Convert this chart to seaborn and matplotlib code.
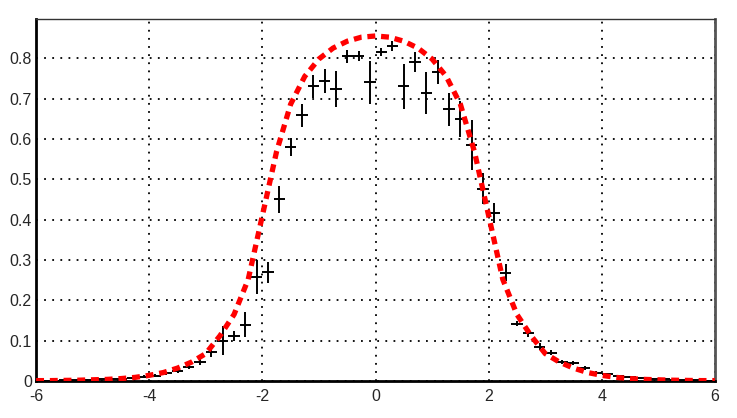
import numpy as np
import matplotlib
matplotlib.use("Agg")
import matplotlib.pyplot as plt
from matplotlib.ticker import MultipleLocator, FuncFormatter
import seaborn as sns

# histogram bin centres (width 0.2) and contents
bin_x = [-5.9, -5.7, -5.5, -5.3, -5.1, -4.9, -4.7, -4.5, -4.3, -4.1,
         -3.9, -3.7, -3.5, -3.3, -3.1, -2.9, -2.7, -2.5, -2.3, -2.1,
         -1.9, -1.7, -1.5, -1.3, -1.1, -0.9, -0.7, -0.5, -0.3, -0.1,
         0.1, 0.3, 0.5, 0.7, 0.9, 1.1, 1.3, 1.5, 1.7, 1.9,
         2.1, 2.3, 2.5, 2.7, 2.9, 3.1, 3.3, 3.5, 3.7, 3.9,
         4.1, 4.3, 4.5, 4.7, 4.9, 5.1, 5.3, 5.5, 5.7, 5.9]
bin_y = [0.001, 0.001, 0.002, 0.002, 0.003, 0.004, 0.005, 0.006, 0.008, 0.011,
         0.013, 0.019, 0.024, 0.035, 0.048, 0.072, 0.100, 0.112, 0.140, 0.258,
         0.270, 0.450, 0.579, 0.658, 0.730, 0.743, 0.723, 0.805, 0.805, 0.740,
         0.815, 0.830, 0.730, 0.790, 0.713, 0.765, 0.673, 0.650, 0.584, 0.477,
         0.417, 0.268, 0.142, 0.119, 0.085, 0.070, 0.047, 0.044, 0.032, 0.021,
         0.017, 0.012, 0.010, 0.008, 0.006, 0.004, 0.003, 0.002, 0.002, 0.001]
bin_err = [0.001, 0.001, 0.001, 0.001, 0.001, 0.002, 0.002, 0.002, 0.003, 0.003,
           0.004, 0.004, 0.005, 0.006, 0.008, 0.012, 0.036, 0.012, 0.030, 0.043,
           0.026, 0.034, 0.022, 0.028, 0.028, 0.030, 0.045, 0.016, 0.012, 0.053,
           0.010, 0.013, 0.056, 0.025, 0.052, 0.030, 0.040, 0.045, 0.062, 0.038,
           0.025, 0.021, 0.006, 0.010, 0.008, 0.006, 0.005, 0.005, 0.004, 0.004,
           0.003, 0.003, 0.002, 0.002, 0.002, 0.001, 0.001, 0.001, 0.001, 0.001]

# fitted curve, sampled every 0.25
curve_x = [-6.0, -5.75, -5.5, -5.25, -5.0, -4.75, -4.5, -4.25, -4.0, -3.75,
           -3.5, -3.25, -3.0, -2.75, -2.5, -2.25, -2.0, -1.75, -1.5, -1.25,
           -1.0, -0.75, -0.5, -0.25, 0.0, 0.25, 0.5, 0.75, 1.0, 1.25,
           1.5, 1.75, 2.0, 2.25, 2.5, 2.75, 3.0, 3.25, 3.5, 3.75,
           4.0, 4.25, 4.5, 4.75, 5.0, 5.25, 5.5, 5.75, 6.0]
curve_y = [0.001, 0.001, 0.0015, 0.002, 0.003, 0.004, 0.006, 0.009, 0.014, 0.021,
           0.032, 0.047, 0.068, 0.112, 0.165, 0.252, 0.410, 0.568, 0.686, 0.755,
           0.798, 0.825, 0.842, 0.852, 0.855, 0.852, 0.842, 0.825, 0.798, 0.755,
           0.686, 0.568, 0.410, 0.252, 0.165, 0.112, 0.068, 0.047, 0.032, 0.021,
           0.014, 0.009, 0.006, 0.004, 0.003, 0.002, 0.0015, 0.001, 0.001]


def plot_fit():
    sns.set_style("white")
    plt.rcParams['font.family'] = ['Liberation Sans', 'DejaVu Sans']

    fig = plt.figure(figsize=(7.37, 4.18), dpi=100)
    ax = fig.add_axes([0.049, 0.0885, 0.921, 0.866])

    ax.errorbar(bin_x, bin_y, xerr=0.1, yerr=bin_err, fmt='none',
                ecolor='black', elinewidth=1.4, capsize=0, zorder=3)
    sns.lineplot(x=curve_x, y=curve_y, ax=ax, color='#ff0000', linewidth=3.8,
                 linestyle=(0, (1.5, 1.1)), zorder=4)

    ax.set_xlim(-6, 6)
    ax.set_ylim(0, 0.897)
    ax.xaxis.set_major_locator(MultipleLocator(2))
    ax.xaxis.set_minor_locator(MultipleLocator(0.5))
    ax.yaxis.set_major_locator(MultipleLocator(0.1))
    ax.yaxis.set_minor_locator(MultipleLocator(0.02))
    ax.yaxis.set_major_formatter(FuncFormatter(lambda v, p: '0' if abs(v) < 1e-9 else f'{v:.1f}'))
    ax.xaxis.set_major_formatter(FuncFormatter(lambda v, p: f'{int(round(v))}'))

    ax.tick_params(axis='both', which='both', direction='in', labelsize=11.5,
                   color='black', width=1.2)
    ax.tick_params(axis='y', which='major', length=14, pad=3)
    ax.tick_params(axis='y', which='minor', length=8)
    ax.tick_params(axis='x', which='major', length=11, pad=6)
    ax.tick_params(axis='x', which='minor', length=5)
    ax.tick_params(top=False, right=False)

    ax.grid(True, which='major', color='black', linestyle=(0, (1, 3.5)), linewidth=1.3)

    for side in ['left', 'bottom']:
        ax.spines[side].set_color('black')
        ax.spines[side].set_linewidth(2)
    ax.spines['right'].set_color('#555555')
    ax.spines['right'].set_linewidth(2)
    ax.spines['top'].set_color('#333333')
    ax.spines['top'].set_linewidth(1)

    ax.set_xlabel("")
    ax.set_ylabel("")
    fig.savefig("out.png", dpi=100)


if __name__ == "__main__":
    plot_fit()
